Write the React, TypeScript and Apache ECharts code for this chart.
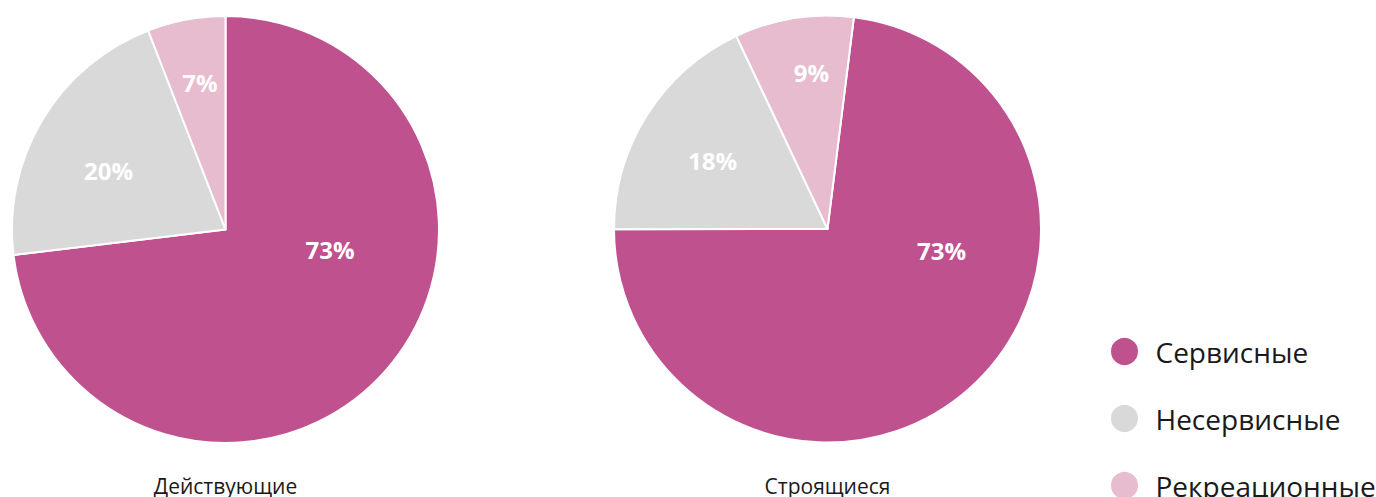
import React, { useEffect, useRef } from "react";
import * as echarts from "echarts";

const categories = ["Сервисные", "Несервисные", "Рекреационные"];
const pieTitles = ["Действующие", "Строящиеся"];
// shares of each category
const activeValues = [73.1, 21.0, 5.9];
const buildingValues = [73.0, 18.0, 9.0];
// printed labels
const activeLabels = ["73%", "20%", "7%"];
const buildingLabels = ["73%", "18%", "9%"];

const COLORS = ["#C0518F", "#D9D9D9", "#E6BCCE"];
const FONT = "'Open Sans', 'Noto Sans', sans-serif";
const R = 213.5;
const CENTERS: [number, number][] = [
  [225.5, 229.5],
  [827.5, 229],
];
const START_ANGLES = [90, 82.9];
// label offsets from the pie centre
const LABEL_OFFSETS: [number, number][][] = [
  [
    [104.5, 20],
    [-117, -59],
    [-25.5, -147],
  ],
  [
    [114, 21],
    [-115, -69],
    [-16, -157],
  ],
];

export default function App() {
  const ref = useRef<HTMLDivElement>(null);
  useEffect(() => {
    document.body.style.margin = "0";
    const chart = echarts.init(ref.current!, null, { renderer: "svg" });
    const makeSeries = (idx: number, values: number[], labels: string[]) => ({
      type: "pie",
      name: pieTitles[idx],
      radius: R,
      center: CENTERS[idx],
      startAngle: START_ANGLES[idx],
      clockwise: true,
      silent: true,
      itemStyle: { borderColor: "#ffffff", borderWidth: 2 },
      label: {
        show: true,
        position: "inside",
        formatter: (p: any) => labels[p.dataIndex],
        color: "#ffffff",
        fontSize: 24,
        fontWeight: "bold",
        fontFamily: FONT,
      },
      labelLine: { show: false },
      labelLayout: (p: any) => {
        const off = LABEL_OFFSETS[idx][p.dataIndex];
        return {
          x: CENTERS[idx][0] + off[0],
          y: CENTERS[idx][1] + off[1],
          align: "center",
          verticalAlign: "middle",
        };
      },
      data: categories.map((c, i) => ({
        name: c,
        value: values[i],
        itemStyle: { color: COLORS[i] },
      })),
    });
    chart.setOption({
      animation: false,
      backgroundColor: "#ffffff",
      legend: {
        orient: "vertical",
        left: 1109,
        top: 336,
        height: 220,
        itemWidth: 30,
        itemHeight: 29,
        itemGap: 36,
        padding: 0,
        icon: "circle",
        data: categories,
        textStyle: {
          fontSize: 28,
          color: "#1a1a1a",
          fontFamily: FONT,
          padding: [0, 0, 0, 11],
          lineHeight: 29,
        },
      },
      graphic: pieTitles.map((t, i) => ({
        type: "text",
        x: CENTERS[i][0],
        y: 486,
        style: {
          text: t,
          fontSize: 21,
          fill: "#1a1a1a",
          fontFamily: FONT,
          align: "center",
          verticalAlign: "middle",
        },
      })),
      series: [
        makeSeries(0, activeValues, activeLabels),
        makeSeries(1, buildingValues, buildingLabels),
      ],
    });
    return () => chart.dispose();
  }, []);
  return (
    <div
      ref={ref}
      style={{ width: 1376, height: 497, position: "absolute", left: 0, top: 0 }}
    />
  );
}
